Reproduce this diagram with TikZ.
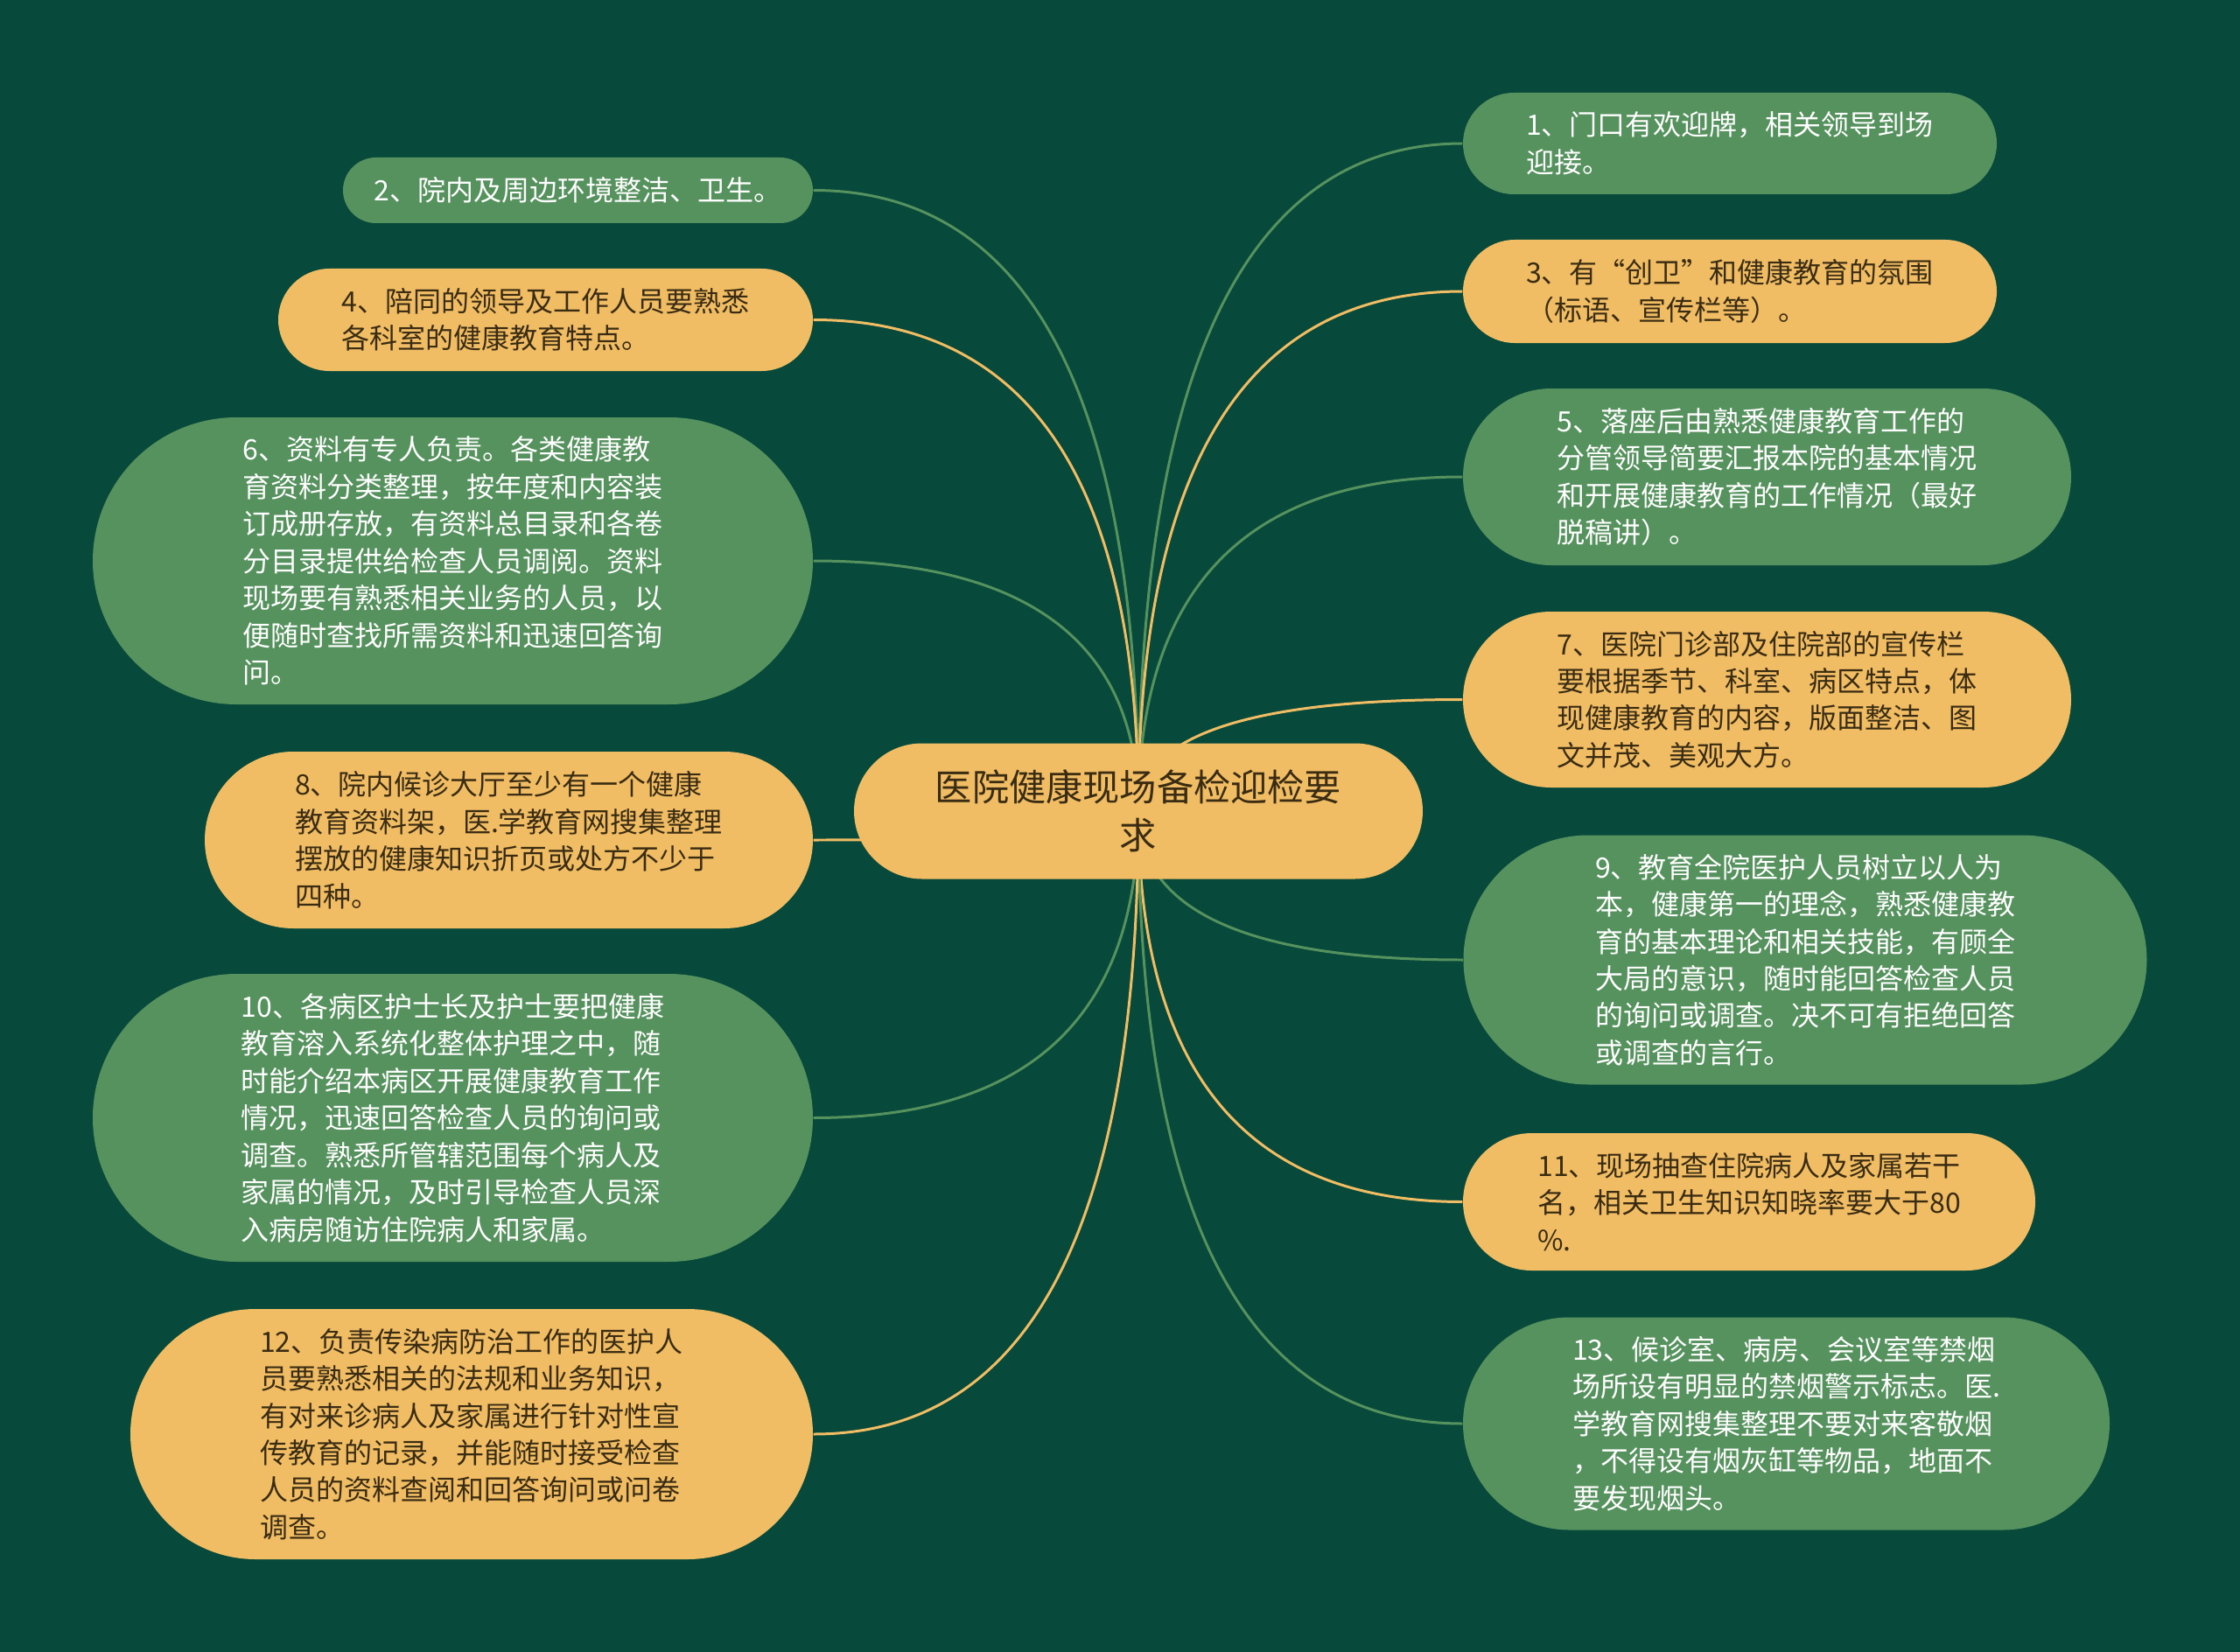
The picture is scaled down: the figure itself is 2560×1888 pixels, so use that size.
\documentclass[tikz,border=0pt]{standalone}
\usepackage{fontspec}
\setmainfont{Noto Sans CJK SC}
\usetikzlibrary{calc,backgrounds}
\definecolor{bgc}{HTML}{07493A}
\definecolor{gnode}{HTML}{55925E}
\definecolor{ynode}{HTML}{F0BC64}
\definecolor{ytext}{HTML}{3A2C12}
\newcommand\nodefont{\fontsize{9.1}{12.07}\selectfont}
\newcommand\linkto[3]{\draw[edge,#3] (c.center) .. controls ($(c.center)!0.6667!(c.center|-#1.#2)$) and ($(#1.#2)!0.6667!(c.center|-#1.#2)$) .. (#1.#2);}
\tikzset{
  sz/.style 2 args={minimum width=#1*0.01cm, minimum height=#2*0.01cm, rounded corners=#2*0.005cm},
  gbox/.style={fill=gnode, text=white, align=left, font=\nodefont, inner sep=0pt},
  ybox/.style={fill=ynode, text=ytext, align=left, font=\nodefont, inner sep=0pt},
  edge/.style={line width=0.85pt},
}
\begin{document}
\begin{tikzpicture}[x=0.01cm,y=-0.01cm]
\useasboundingbox (0,0) rectangle (2560,1888);
% center
\node[fill=ynode, text=ytext, align=center, inner sep=0pt, font=\fontsize{12}{15.8}\selectfont, sz={650}{155}] (c) at (1301,927) {医院健康现场备检迎检要\\求};
% right side
\node[gbox, sz={610}{116}] (n1) at (1977,164) {1、门口有欢迎牌，相关领导到场\\迎接。};
\node[ybox, sz={610}{118}] (n3) at (1977,333) {3、有“创卫”和健康教育的氛围\\（标语、宣传栏等）。};
\node[gbox, sz={695}{202}] (n5) at (2019.5,545) {5、落座后由熟悉健康教育工作的\\分管领导简要汇报本院的基本情况\\和开展健康教育的工作情况（最好\\脱稿讲）。};
\node[ybox, sz={695}{201}] (n7) at (2019.5,799.5) {7、医院门诊部及住院部的宣传栏\\要根据季节、科室、病区特点，体\\现健康教育的内容，版面整洁、图\\文并茂、美观大方。};
\node[gbox, sz={781}{285}] (n9) at (2063,1097) {9、教育全院医护人员树立以人为\\本，健康第一的理念，熟悉健康教\\育的基本理论和相关技能，有顾全\\大局的意识，随时能回答检查人员\\的询问或调查。决不可有拒绝回答\\或调查的言行。};
\node[ybox, sz={654}{157}] (n11) at (1999,1373.5) {11、现场抽查住院病人及家属若干\\名，相关卫生知识知晓率要大于80\\\%.};
\node[gbox, sz={739}{243}] (n13) at (2041.5,1627) {13、候诊室、病房、会议室等禁烟\\场所设有明显的禁烟警示标志。医.\\学教育网搜集整理不要对来客敬烟\\，不得设有烟灰缸等物品，地面不\\要发现烟头。};
% left side
\node[gbox, sz={537}{75}] (n2) at (660.5,217.5) {2、院内及周边环境整洁、卫生。};
\node[ybox, sz={611}{117}] (n4) at (623.5,365.5) {4、陪同的领导及工作人员要熟悉\\各科室的健康教育特点。};
\node[gbox, sz={823}{328}] (n6) at (517.5,641) {6、资料有专人负责。各类健康教\\育资料分类整理，按年度和内容装\\订成册存放，有资料总目录和各卷\\分目录提供给检查人员调阅。资料\\现场要有熟悉相关业务的人员，以\\便随时查找所需资料和迅速回答询\\问。};
\node[ybox, sz={695}{202}] (n8) at (581.5,960) {8、院内候诊大厅至少有一个健康\\教育资料架，医.学教育网搜集整理\\摆放的健康知识折页或处方不少于\\四种。};
\node[gbox, sz={823}{329}] (n10) at (517.5,1277.5) {10、各病区护士长及护士要把健康\\教育溶入系统化整体护理之中，随\\时能介绍本病区开展健康教育工作\\情况，迅速回答检查人员的询问或\\调查。熟悉所管辖范围每个病人及\\家属的情况，及时引导检查人员深\\入病房随访住院病人和家属。};
\node[ybox, sz={780}{286}] (n12) at (539,1639) {12、负责传染病防治工作的医护人\\员要熟悉相关的法规和业务知识，\\有对来诊病人及家属进行针对性宣\\传教育的记录，并能随时接受检查\\人员的资料查阅和回答询问或问卷\\调查。};
\begin{pgfonlayer}{background}
\fill[bgc] (0,0) rectangle (2560,1888);
\linkto{n1}{west}{gnode}
\linkto{n3}{west}{ynode}
\linkto{n5}{west}{gnode}
\linkto{n7}{west}{ynode}
\linkto{n9}{west}{gnode}
\linkto{n11}{west}{ynode}
\linkto{n13}{west}{gnode}
\linkto{n2}{east}{gnode}
\linkto{n4}{east}{ynode}
\linkto{n6}{east}{gnode}
\linkto{n8}{east}{ynode}
\linkto{n10}{east}{gnode}
\linkto{n12}{east}{ynode}
\end{pgfonlayer}
\end{tikzpicture}
\end{document}
